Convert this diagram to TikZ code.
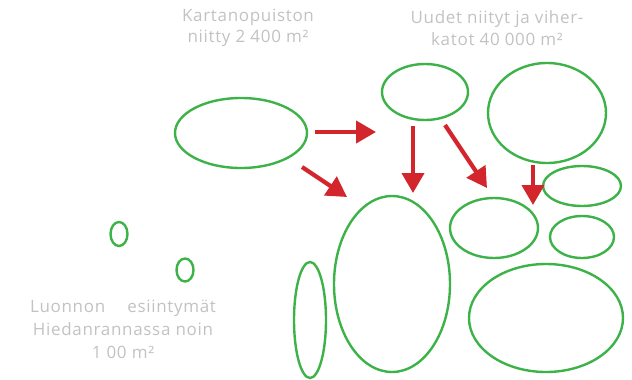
\documentclass[tikz,border=0pt]{standalone}
\usepackage{fontspec}
\setmainfont{Open Sans}[LetterSpace=4]
\usetikzlibrary{arrows.meta}
\definecolor{grn}{HTML}{3DB249}
\definecolor{rd}{HTML}{D3262C}
\definecolor{txt}{HTML}{C2C2C2}
\begin{document}
\begin{tikzpicture}[x=1pt,y=-1pt,
  arr/.style={draw=rd,line width=4.2pt,-{Triangle[length=20pt,width=22pt]}},
  blob/.style={grn,line width=2.4pt},
  lbl/.style={text=txt,font=\fontsize{17}{21.5}\selectfont,align=center,inner sep=0pt}]
\useasboundingbox (0,0) rectangle (632,380);
% ellipses
\coordinate (ck) at (241,133);
\draw[blob] (ck) ellipse [x radius=66, y radius=35];
\coordinate (ct) at (425,92);
\draw[blob] (ct) ellipse [x radius=43, y radius=28];
\coordinate (ctr) at (547,113);
\draw[blob] (ctr) ellipse [x radius=59, y radius=50];
\coordinate (crm) at (582,186);
\draw[blob] (crm) ellipse [x radius=39, y radius=20];
\coordinate (cc) at (494,228);
\draw[blob] (cc) ellipse [x radius=44, y radius=30];
\coordinate (crs) at (582,237);
\draw[blob] (crs) ellipse [x radius=32, y radius=21];
\coordinate (cbr) at (546,318);
\draw[blob] (cbr) ellipse [x radius=77, y radius=54];
\coordinate (cl) at (392,284);
\draw[blob] (cl) ellipse [x radius=58, y radius=88];
\coordinate (cth) at (310,320);
\draw[blob] (cth) ellipse [x radius=16, y radius=58];
\coordinate (cs1) at (119,234);
\draw[blob] (cs1) ellipse [x radius=8.5, y radius=12];
\coordinate (cs2) at (185,270);
\draw[blob] (cs2) ellipse [x radius=8.5, y radius=11.5];
% arrows
\coordinate (a1s) at (315,132); \coordinate (a1e) at (376,132);
\coordinate (a2s) at (302,167); \coordinate (a2e) at (347,197);
\coordinate (a3s) at (413,126); \coordinate (a3e) at (413,193);
\coordinate (a4s) at (445,125); \coordinate (a4e) at (487,188);
\coordinate (a5s) at (533,165); \coordinate (a5e) at (533,205);
\draw[arr] (a1s) -- (a1e);
\draw[arr] (a2s) -- (a2e);
\draw[arr] (a3s) -- (a3e);
\draw[arr] (a4s) -- (a4e);
\draw[arr] (a5s) -- (a5e);
% labels
\node[lbl] (t1) at (248,28) {Kartanopuiston\\niitty 2 400 m²};
\node[lbl] (t2) at (497,28) {Uudet niityt ja viher-\\katot 40 000 m²};
\node[lbl,font=\fontsize{17}{23}\selectfont] (t3) at (123,329) {Luonnon\hspace{1.3em}esiintymät\\Hiedanrannassa noin\\1 00 m²};
\end{tikzpicture}
\end{document}
